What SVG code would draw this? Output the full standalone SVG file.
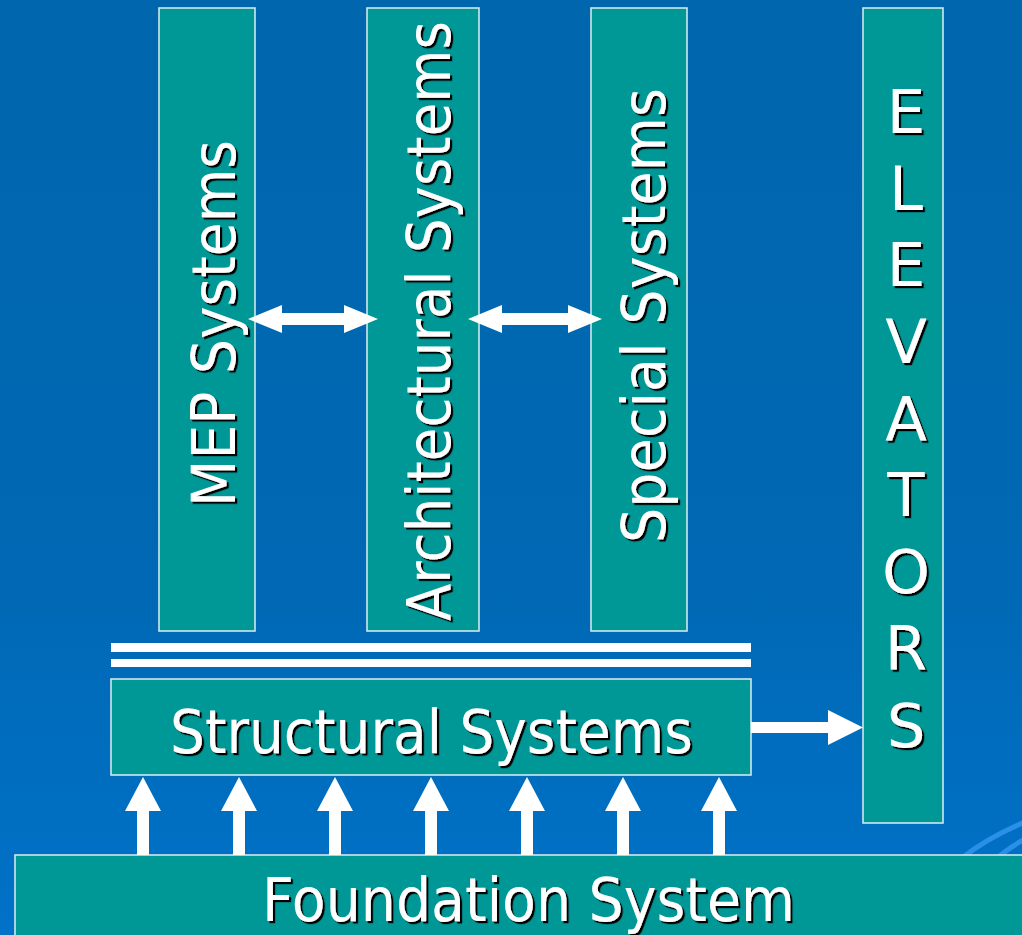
<svg xmlns="http://www.w3.org/2000/svg" width="1022" height="935" viewBox="0 0 1022 935">
  <defs>
    <linearGradient id="bg" x1="0" y1="0" x2="0" y2="1">
      <stop offset="0" stop-color="#0066ad"/>
      <stop offset="0.6" stop-color="#0068b4"/>
      <stop offset="1" stop-color="#0072c8"/>
    </linearGradient>
    <filter id="shadow" x="-10%" y="-10%" width="120%" height="120%">
      <feDropShadow dx="2.2" dy="2.2" stdDeviation="0.3" flood-color="#000" flood-opacity="1"/>
    </filter>
  </defs>
  <style>
    .box { fill: #009896; stroke: #cfe9ea; stroke-width: 1.6; }
    .bar { fill: #ffffff; }
    .arrow { fill: #ffffff; }
    .label { fill: #ffffff; font-family: "DejaVu Sans", "Liberation Sans", sans-serif; font-size: 61px; }
    .letter { text-anchor: middle; }
    .swoosh { fill: none; stroke: #2a8fe6; stroke-width: 5; }
  </style>

  <!-- backdrop -->
  <rect x="0" y="0" width="1022" height="935" fill="url(#bg)"/>
  <path class="swoosh" d="M962 858 Q990 836 1030 820"/>
  <path class="swoosh" d="M995 860 Q1008 848 1030 836"/>

  <!-- vertical system columns -->
  <g id="mep">
    <rect class="box" x="159" y="8" width="96" height="623"/>
    <g filter="url(#shadow)">
      <text class="label" transform="translate(235 507) rotate(-90)" textLength="367" lengthAdjust="spacingAndGlyphs">MEP Systems</text>
    </g>
  </g>
  <g id="architectural">
    <rect class="box" x="367" y="8" width="112" height="623"/>
    <g filter="url(#shadow)">
      <text class="label" transform="translate(450 621) rotate(-90)" textLength="600" lengthAdjust="spacingAndGlyphs">Architectural Systems</text>
    </g>
  </g>
  <g id="special">
    <rect class="box" x="591" y="8" width="96" height="623"/>
    <g filter="url(#shadow)">
      <text class="label" transform="translate(665 543) rotate(-90)" textLength="455" lengthAdjust="spacingAndGlyphs">Special Systems</text>
    </g>
  </g>
  <g id="elevators">
    <rect class="box" x="863" y="8" width="80" height="815"/>
    <g class="label letter" filter="url(#shadow)">
      <text x="906" y="133">E</text>
      <text x="906" y="210">L</text>
      <text x="906" y="286">E</text>
      <text x="906" y="363">V</text>
      <text x="906" y="440">A</text>
      <text x="906" y="516">T</text>
      <text x="906" y="593">O</text>
      <text x="906" y="670">R</text>
      <text x="906" y="747">S</text>
    </g>
  </g>

  <!-- horizontal layers -->
  <g id="separator">
    <rect class="bar" x="111" y="643" width="640" height="9"/>
    <rect class="bar" x="111" y="659" width="640" height="8"/>
  </g>
  <g id="structural">
    <rect class="box" x="111" y="679" width="640" height="96"/>
    <g filter="url(#shadow)">
      <text class="label" x="170" y="753" textLength="523" lengthAdjust="spacingAndGlyphs">Structural Systems</text>
    </g>
  </g>
  <g id="foundation">
    <rect class="box" x="15" y="855" width="1020" height="90"/>
    <g filter="url(#shadow)">
      <text class="label" x="262" y="921" textLength="533" lengthAdjust="spacingAndGlyphs">Foundation System</text>
    </g>
  </g>

  <!-- connectors -->
  <g id="connectors">
    <!-- two-way links between columns -->
    <path class="arrow" d="M248 319 L282 305 L282 313 L344 313 L344 305 L378 319 L344 333 L344 325 L282 325 L282 333 Z"/>
    <path class="arrow" d="M468 319 L502 305 L502 313 L568 313 L568 305 L602 319 L568 333 L568 325 L502 325 L502 333 Z"/>
    <!-- structural to elevators -->
    <path class="arrow" d="M751 722 L828 722 L828 710 L863 727.5 L828 745 L828 733 L751 733 Z"/>
    <!-- foundation supports -->
    <path id="up" class="arrow" d="M137 855 L137 811 L125 811 L143 777 L161 811 L149 811 L149 855 Z"/>
    <use href="#up" x="96"/>
    <use href="#up" x="192"/>
    <use href="#up" x="288"/>
    <use href="#up" x="384"/>
    <use href="#up" x="480"/>
    <use href="#up" x="576"/>
  </g>
</svg>
